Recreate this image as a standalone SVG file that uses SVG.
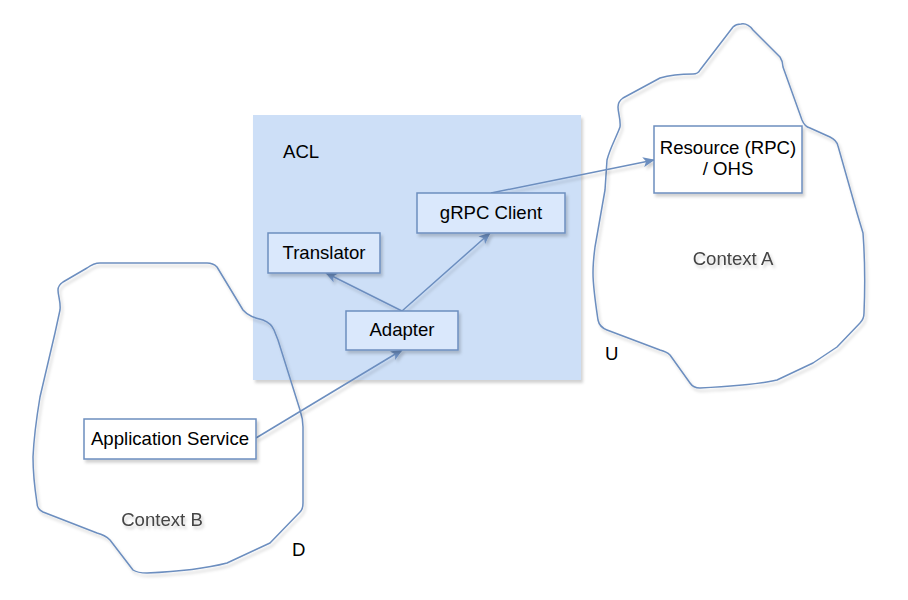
<svg xmlns="http://www.w3.org/2000/svg" width="908" height="600" viewBox="0 0 908 600">
<style>
text{font-family:"Liberation Sans",Arial,sans-serif;font-size:18.6px;fill:#000}
.ctx{fill:#444}
.cloud{fill:none;stroke:#6c8ebf;stroke-width:1.5;stroke-linejoin:round}
.box{fill:#dae8fc;stroke:#6c8ebf;stroke-width:1.5}
.wbox{fill:#fff;stroke:#6c8ebf;stroke-width:1.5}
.edge{fill:none;stroke:#6c8ebf;stroke-width:1.5}
</style>
<defs>
<filter id="sh" x="-10%" y="-10%" width="130%" height="130%">
<feDropShadow dx="2" dy="3" stdDeviation="1.5" flood-color="#000" flood-opacity="0.18"/>
</filter>
<marker id="arr" viewBox="0 0 12 10" refX="11" refY="5" markerWidth="12" markerHeight="10" markerUnits="userSpaceOnUse" orient="auto">
<path d="M0,0 L12,5 L0,10 L3,5 Z" fill="#6c8ebf"/>
</marker>
</defs>
<rect width="908" height="600" fill="#fff"/>
<g id="acl">
<rect x="253" y="115" width="328" height="265" fill="#cddff7" filter="url(#sh)"/>
<text x="283" y="158">ACL</text>
</g>
<g id="context-a" filter="url(#sh)">
<path class="cloud" d="M741,24 C746,23 750,26 753,30 L780,57 C782,60 783,64 783,67 L802,120 C804,125 806,127 810,128 L830,137 C834,139 837,141 838,146 L857,213 L863,233 C865,260 865,290 864,313 C864,317 863,320 860,323 L837,347 L813,363 L777,380 C760,384 740,386 700,388 C695,388 692,386 690,383 L670,355 C667,352 664,351 660,350 L607,330 C602,328 599,325 598,320 C595,300 593,285 593,273 C593,262 594,255 595,247 L605,190 L607,160 C610,148 616,138 620,127 C621,120 618,113 618,107 C618,103 620,100 623,98 L660,78 C670,75 682,74 693,74 C697,74 699,72 700,70 L733,27 C735,25 738,24 741,24 Z"/>
<text class="ctx" x="733" y="265" text-anchor="middle">Context A</text>
</g>
<g id="context-b" filter="url(#sh)">
<path class="cloud" d="M100,263 L207,263 C212,263 215,265 217,267 L243,310 C248,316 255,318 263,320 C268,322 272,325 274,330 L278,340 L300,410 C302,416 303,421 303,427 L303,503 C303,507 302,510 300,512 L270,543 L227,563 C200,570 170,572 147,573 C140,573 136,572 133,570 L110,540 C106,536 101,534 97,533 L43,512 C39,510 37,507 37,503 C35,490 33,470 33,457 C34,435 37,415 40,397 L55,333 L60,310 C61,302 58,296 58,290 C58,286 60,284 63,282 L87,268 C91,265 95,263 100,263 Z"/>
<text class="ctx" x="162" y="526" text-anchor="middle">Context B</text>
</g>
<g id="edges" filter="url(#sh)">
<path class="edge" d="M256,438 L402,350" marker-end="url(#arr)"/>
<path class="edge" d="M402,311 L326,273" marker-end="url(#arr)"/>
<path class="edge" d="M402,311 L490,233" marker-end="url(#arr)"/>
<path class="edge" d="M491,193 L654,160" marker-end="url(#arr)"/>
</g>
<g id="translator">
<rect class="box" x="268" y="233" width="112" height="40" filter="url(#sh)"/>
<text x="324" y="259" text-anchor="middle">Translator</text>
</g>
<g id="grpc-client">
<rect class="box" x="417" y="193" width="148" height="40" filter="url(#sh)"/>
<text x="491" y="219" text-anchor="middle">gRPC Client</text>
</g>
<g id="adapter">
<rect class="box" x="346" y="311" width="112" height="39" filter="url(#sh)"/>
<text x="402" y="336" text-anchor="middle">Adapter</text>
</g>
<g id="resource">
<rect class="wbox" x="654" y="126" width="148" height="67" filter="url(#sh)"/>
<text x="728" y="154" text-anchor="middle">Resource (RPC)</text>
<text x="728" y="175" text-anchor="middle">/ OHS</text>
</g>
<g id="application-service">
<rect class="wbox" x="84" y="419" width="172" height="40" filter="url(#sh)"/>
<text x="170" y="445" text-anchor="middle">Application Service</text>
</g>
<g id="labels">
<text x="605" y="360">U</text>
<text x="292" y="556">D</text>
</g>
</svg>
